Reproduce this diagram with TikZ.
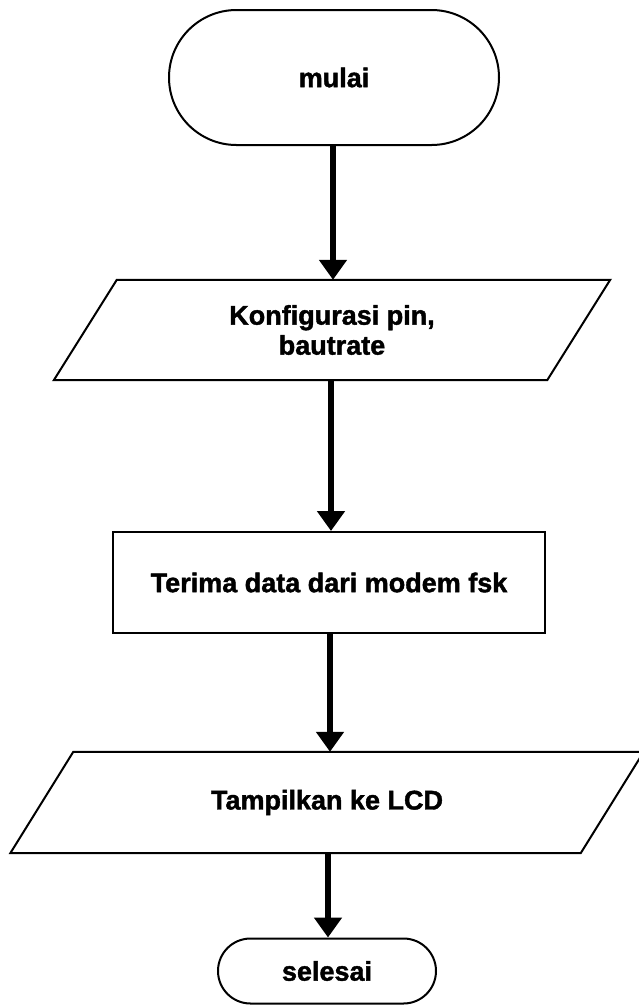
\documentclass[tikz,border=0pt]{standalone}
\usepackage{fontspec}
\setmainfont{Liberation Sans}[BoldFeatures={FakeBold=1.5}]
\usetikzlibrary{shapes.misc,arrows.meta,calc}
\tikzset{
  term/.style={draw, line width=2pt, rounded rectangle, inner sep=0pt},
  lbl/.style={inner sep=0pt, align=center, font=\fontsize{27}{30}\selectfont\bfseries},
  procbox/.style={draw, line width=2pt, rectangle, inner sep=0pt},
  flow/.style={line width=6.5pt, -{Triangle[length=20pt,width=27pt]}},
  shapeline/.style={line width=2pt, line join=miter}
}
\begin{document}
\begin{tikzpicture}[x=1pt,y=-1pt]
\useasboundingbox (0,0) rectangle (638,1005);
% start terminator
\node[term, lbl, minimum width=330pt, minimum height=135pt] (mulai) at (334,77.5) {mulai};
% data 1
\node[lbl, minimum width=493pt, minimum height=100pt] (p1) at (332,330) {Konfigurasi pin,\\bautrate};
\draw[shapeline] ($(p1.north west)+(31.5pt,0pt)$) -- ($(p1.north east)+(31.5pt,0pt)$)
  -- ($(p1.south east)+(-31.5pt,0pt)$) -- ($(p1.south west)+(-31.5pt,0pt)$) -- cycle;
% process
\node[procbox, lbl, minimum width=432pt, minimum height=101pt] (proc) at (329,582.5) {Terima data dari modem fsk};
% data 2
\node[lbl, minimum width=570pt, minimum height=101pt] (p2) at (327,802.5) {Tampilkan ke LCD};
\draw[shapeline] ($(p2.north west)+(31.5pt,0pt)$) -- ($(p2.north east)+(31.5pt,0pt)$)
  -- ($(p2.south east)+(-31.5pt,0pt)$) -- ($(p2.south west)+(-31.5pt,0pt)$) -- cycle;
% end terminator
\node[term, lbl, minimum width=218pt, minimum height=65pt] (selesai) at (327,971) {selesai};
% connectors
\coordinate (a1s) at ([xshift=-1pt]mulai.south);
\coordinate (a1e) at (a1s |- p1.north);
\draw[flow] (a1s) -- (a1e);
\coordinate (a2s) at ([xshift=-1pt]p1.south);
\coordinate (a2e) at (a2s |- proc.north);
\draw[flow] (a2s) -- (a2e);
\coordinate (a3s) at ([xshift=1pt]proc.south);
\coordinate (a3e) at (a3s |- p2.north);
\draw[flow] (a3s) -- (a3e);
\coordinate (a4s) at ([xshift=1pt]p2.south);
\coordinate (a4e) at (a4s |- selesai.north);
\draw[flow] (a4s) -- (a4e);
\end{tikzpicture}
\end{document}
